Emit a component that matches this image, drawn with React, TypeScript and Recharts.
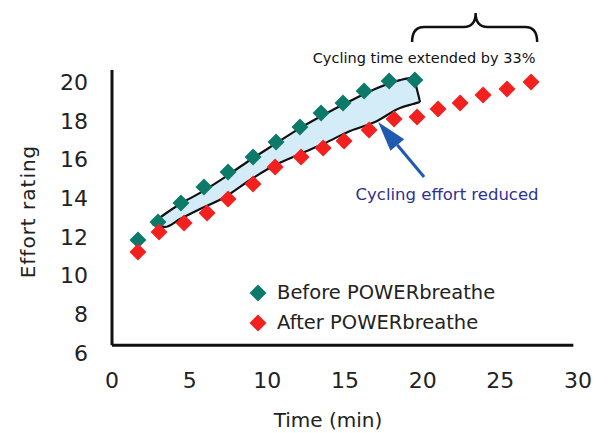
import React from 'react';
import {
  ComposedChart,
  XAxis,
  YAxis,
  Area,
  Scatter,
  ReferenceLine,
  ReferenceDot,
  Label,
} from 'recharts';

// ---- Data ----
const beforeTime = [1.67, 2.96, 4.44, 5.92, 7.47, 9.08, 10.56, 12.1, 13.46, 14.87, 16.23, 17.84, 19.5];
const beforeRating = [11.84, 12.77, 13.75, 14.58, 15.35, 16.13, 16.9, 17.68, 18.4, 18.92, 19.54, 20.05, 20.1];

const afterTime = [1.67, 3.03, 4.64, 6.12, 7.47, 9.08, 10.5, 12.17, 13.59, 14.94, 16.55, 18.16, 19.64, 20.99, 22.41, 23.89, 25.43, 26.98];
const afterRating = [11.22, 12.25, 12.72, 13.23, 13.96, 14.73, 15.61, 16.13, 16.59, 16.95, 17.52, 18.09, 18.19, 18.6, 18.92, 19.33, 19.64, 20.0];

// shaded region between the curves (hand-drawn outline)
const regionTime = [2.58, 3.41, 4.38, 5.67, 7.28, 8.89, 10.5, 12.1, 13.72, 15.33, 16.93, 18.54, 19.38, 19.64, 19.83];
const regionUpper = [12.67, 13.18, 13.7, 14.27, 15.09, 15.97, 16.8, 17.62, 18.35, 19.02, 19.64, 20.1, 20.21, 19.59, 18.97];
const regionLower = [12.67, 12.51, 12.92, 13.44, 14.06, 14.94, 15.71, 16.28, 16.85, 17.47, 17.93, 18.66, 18.86, 18.92, 18.97];

const timeTicks = [0, 5, 10, 15, 20, 25, 30];
const ratingTicks = [6, 8, 10, 12, 14, 16, 18, 20];

const seriesNames = ['Before POWERbreathe', 'After POWERbreathe'];
const annotationTop = 'Cycling time extended by 33%';
const annotationArrow = 'Cycling effort reduced';

const GREEN = '#0d7a69';
const RED = '#f2201f';
const seriesColors = [GREEN, RED];
const FONT = '"DejaVu Sans", sans-serif';

const beforeData = beforeTime.map((t, i) => ({ x: t, y: beforeRating[i] }));
const afterData = afterTime.map((t, i) => ({ x: t, y: afterRating[i] }));
const regionData = regionTime.map((t, i) => ({ x: t, range: [regionLower[i], regionUpper[i]] }));

const Diamond = (props: any) => {
  const { cx, cy, fill } = props;
  if (cx == null || cy == null) return null;
  const r = 8.5;
  return (
    <polygon
      points={`${cx},${cy - r} ${cx + r},${cy} ${cx},${cy + r} ${cx - r},${cy}`}
      fill={fill}
    />
  );
};

const BraceShape = (props: any) => {
  const { x1, y1, x2 } = props;
  if (x1 == null) return null;
  const y = y1;
  const mid = (x1 + x2) / 2 + 1;
  const d = `M${x1},${y + 15} Q${x1},${y} ${x1 + 12},${y} L${mid - 12},${y} Q${mid},${y} ${mid},${y - 14} Q${mid},${y} ${mid + 12},${y} L${x2 - 12},${y} Q${x2},${y} ${x2},${y + 15}`;
  return <path d={d} fill="none" stroke="#111" strokeWidth={2.5} />;
};

const ArrowShape = (props: any) => {
  const { x1, y1, x2, y2 } = props;
  if (x1 == null) return null;
  const dx = x2 - x1;
  const dy = y2 - y1;
  const len = Math.sqrt(dx * dx + dy * dy);
  const ux = dx / len;
  const uy = dy / len;
  const headLen = 30;
  const headW = 9;
  const bx = x2 - ux * headLen;
  const by = y2 - uy * headLen;
  const px = -uy;
  const py = ux;
  return (
    <g>
      <line x1={x1} y1={y1} x2={bx} y2={by} stroke="#1e5bb0" strokeWidth={3} />
      <polygon
        points={`${x2},${y2} ${bx + px * headW},${by + py * headW} ${bx - px * headW},${by - py * headW}`}
        fill="#1e5bb0"
      />
    </g>
  );
};

const LegendBox = () => (
  <div
    style={{
      position: 'absolute',
      left: 248,
      top: 278,
      fontFamily: FONT,
      fontSize: 19.5,
      color: '#222',
      lineHeight: '30px',
    }}
  >
    {seriesNames.map((name, i) => (
      <div key={name} style={{ display: 'flex', alignItems: 'center', height: 30 }}>
        <svg width={20} height={20} style={{ marginRight: 9 }}>
          <polygon points="10,1.5 18.5,10 10,18.5 1.5,10" fill={seriesColors[i]} />
        </svg>
        <span>{name}</span>
      </div>
    ))}
  </div>
);

export default function App() {
  return (
    <div style={{ position: 'absolute', left: 0, top: 0, width: 608, height: 433, background: '#fff' }}>
      <ComposedChart
        width={608}
        height={433}
        data={regionData}
        margin={{ top: 70, right: 30, bottom: 0, left: 10 }}
      >
        <XAxis
          type="number"
          dataKey="x"
          domain={[0, 30]}
          ticks={timeTicks}
          interval={0}
          axisLine={false}
          tickLine={false}
          tickSize={0}
          tickMargin={19}
          height={80}
          tick={{ fontSize: 22, fill: '#222', fontFamily: FONT }}
        >
          <Label
            value="Time (min)"
            position="insideBottom"
            offset={6}
            dx={-17}
            style={{ fontSize: 20, fill: '#222', fontFamily: FONT }}
          />
        </XAxis>
        <YAxis
          type="number"
          domain={[6, 20.62]}
          ticks={ratingTicks}
          interval={0}
          allowDataOverflow
          axisLine={false}
          tickLine={false}
          tickSize={0}
          tickMargin={24}
          width={102}
          tick={{ fontSize: 22, fill: '#222', fontFamily: FONT }}
        >
          <Label
            value="Effort rating"
            angle={-90}
            position="insideLeft"
            offset={18}
            style={{ fontSize: 20, fill: '#222', fontFamily: FONT, textAnchor: 'middle', letterSpacing: 1 }}
          />
        </YAxis>

        <Area
          dataKey="range"
          type="monotone"
          fill="#d3ecf8"
          fillOpacity={1}
          stroke="#111"
          strokeWidth={2.2}
          isAnimationActive={false}
          legendType="none"
          dot={false}
          activeDot={false}
        />

        <ReferenceLine
          segment={[{ x: 0, y: 6.4 }, { x: 0, y: 20.62 }]}
          stroke="#111"
          strokeWidth={3}
          ifOverflow="visible"
        />
        <ReferenceLine
          segment={[{ x: 0, y: 6.4 }, { x: 29.7, y: 6.4 }]}
          stroke="#111"
          strokeWidth={3}
          ifOverflow="visible"
        />

        <Scatter
          name={seriesNames[0]}
          data={beforeData}
          dataKey="y"
          fill={GREEN}
          shape={Diamond}
          isAnimationActive={false}
        />
        <Scatter
          name={seriesNames[1]}
          data={afterData}
          dataKey="y"
          fill={RED}
          shape={Diamond}
          isAnimationActive={false}
        />

        <ReferenceLine
          segment={[{ x: 19.32, y: 22.84 }, { x: 27.37, y: 22.84 }]}
          ifOverflow="visible"
          shape={BraceShape}
        />
        <ReferenceLine
          segment={[{ x: 20.09, y: 15.09 }, { x: 17.13, y: 17.93 }]}
          ifOverflow="visible"
          shape={ArrowShape}
        />
        <ReferenceDot x={20.09} y={21.24} r={0} fill="none" stroke="none" ifOverflow="visible">
          <Label
            value={annotationTop}
            position="center"
            style={{ fontSize: 14.5, fill: '#111', fontFamily: FONT }}
          />
        </ReferenceDot>
        <ReferenceDot x={21.57} y={14.21} r={0} fill="none" stroke="none" ifOverflow="visible">
          <Label
            value={annotationArrow}
            position="center"
            style={{ fontSize: 16.5, fill: '#2e3192', fontFamily: FONT }}
          />
        </ReferenceDot>
      </ComposedChart>
      <LegendBox />
    </div>
  );
}
